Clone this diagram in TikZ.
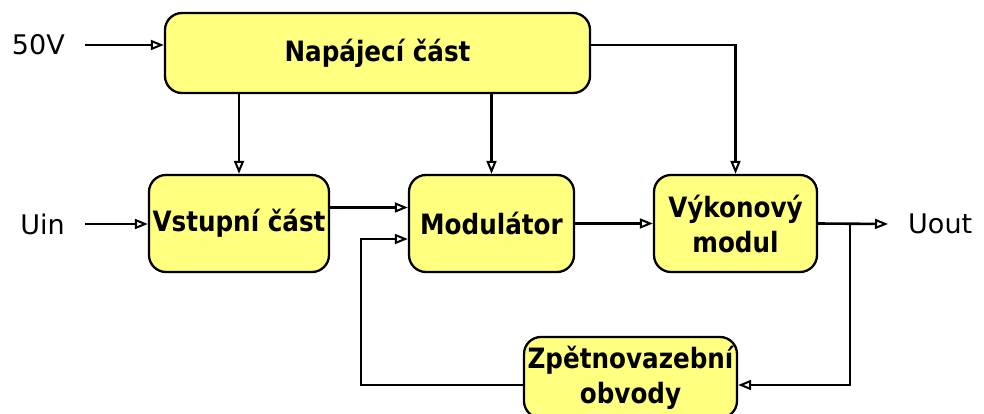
\documentclass[tikz,border=0pt]{standalone}
\usepackage{fontspec}
\setmainfont{DejaVu Sans}
\newfontfamily\blockfont[FakeStretch=0.88]{DejaVu Sans Bold}
\usetikzlibrary{arrows.meta}

\definecolor{blockfill}{HTML}{FFFF80}

\begin{document}
\begin{tikzpicture}[
  x=1pt, y=-1pt,
  block/.style={draw, line width=2.3pt, rounded corners=17pt, fill=blockfill,
    align=center, inner sep=0pt, font=\fontsize{28}{35}\blockfont},
  lbl/.style={inner ysep=0pt, inner xsep=20pt, font=\fontsize{27}{30}\selectfont},
  arrow/.style={-{Triangle[open, length=13pt, width=10pt, line width=2pt]}, line width=2.6pt}
]
\useasboundingbox (0,0) rectangle (984,414);
\node[block, minimum width=425pt, minimum height=80pt] (nap)  at (377.5, 53)  {Napájecí část};
\node[block, minimum width=180pt, minimum height=97pt] (vst)  at (239, 223.5)  {Vstupní část};
\node[block, minimum width=165pt, minimum height=97pt] (mod)  at (491.5, 223.5){Modulátor};
\node[block, minimum width=163pt, minimum height=97pt] (vyk)  at (735.5, 223.5){Výkonový\\modul};
\node[block, minimum width=213pt, minimum height=81pt] (zpet) at (630.5, 377.5){Zpětnovazební\\obvody};
\node[lbl, anchor=east] (u50)  at (85, 45)  {50V};
\node[lbl, anchor=east] (uin)  at (85, 224) {Uin};
\node[lbl, anchor=west] (uout) at (888, 224){Uout};
\coordinate (br)  at (850, 224);
\coordinate (fb)  at (361, 385);
\coordinate (fbm) at (361, 239);
\draw[arrow] (u50.east) -- (nap.west |- u50.east);
\draw[arrow] (uin.east) -- (vst.west |- uin.east);
\draw[arrow] (nap.south -| vst.north) -- (vst.north);
\draw[arrow] (nap.south -| mod.north) -- (mod.north);
\draw[arrow] (nap.east |- u50.east) -| (vyk.north);
\draw[arrow] ([yshift=16pt]vst.east) -- ([yshift=16pt]mod.west);
\draw[arrow] (mod) -- (vyk);
\draw[arrow] (vyk.east) -- (uout.west);
\draw[arrow] (br) |- (zpet.east |- fb);
\draw[arrow] (zpet.west |- fb) -| (fbm) -- (mod.west |- fbm);
\end{tikzpicture}
\end{document}
